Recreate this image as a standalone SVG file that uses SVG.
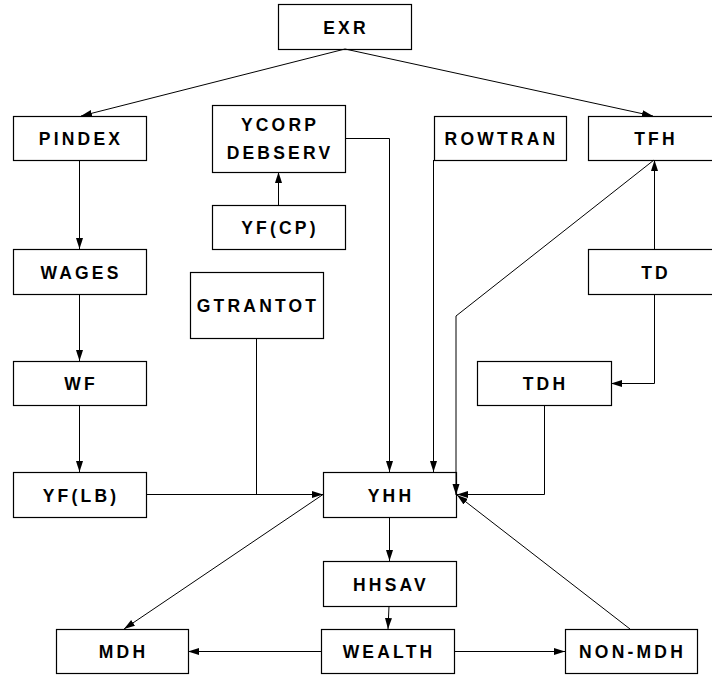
<svg xmlns="http://www.w3.org/2000/svg" width="712" height="675" viewBox="0 0 712 675">
<style>
.box rect{fill:#fff;stroke:#000;stroke-width:1.2}
.box text{font-family:"Liberation Sans",Arial,sans-serif;font-weight:bold;font-size:17.5px;letter-spacing:3.2px;text-anchor:middle;fill:#000}
.c line,.c polyline{fill:none;stroke:#000;stroke-width:1}
</style>
<defs>
<marker id="ah" markerUnits="userSpaceOnUse" markerWidth="12" markerHeight="8" refX="11" refY="3.5" orient="auto">
<path d="M0,0 L11,3.5 L0,7 z" fill="#000"/>
</marker>
</defs>
<rect width="712" height="675" fill="#fff"/>
<g class="box" id="EXR"><rect x="278.5" y="4.5" width="133" height="45"/><text x="346" y="33.5">EXR</text></g>
<g class="box" id="PINDEX"><rect x="13.5" y="116.5" width="133" height="44"/><text x="81" y="145">PINDEX</text></g>
<g class="box" id="YCORP"><rect x="212.5" y="105.5" width="133" height="67"/><text x="280" y="131">YCORP</text><text x="280" y="158.5">DEBSERV</text></g>
<g class="box" id="ROWTRAN"><rect x="434.5" y="116.5" width="132" height="44"/><text x="501.5" y="145">ROWTRAN</text></g>
<g class="box" id="TFH"><rect x="588.5" y="116.5" width="133" height="44"/><text x="656" y="145">TFH</text></g>
<g class="box" id="YFCP"><rect x="212.5" y="205.5" width="133" height="44"/><text x="280" y="234">YF(CP)</text></g>
<g class="box" id="WAGES"><rect x="13.5" y="249.5" width="133" height="45"/><text x="81" y="278.5">WAGES</text></g>
<g class="box" id="GTRANTOT"><rect x="190.5" y="272.5" width="133" height="66"/><text x="258" y="312">GTRANTOT</text></g>
<g class="box" id="TD"><rect x="588.5" y="249.5" width="133" height="45"/><text x="656" y="278.5">TD</text></g>
<g class="box" id="WF"><rect x="13.5" y="361.5" width="133" height="44"/><text x="81" y="390">WF</text></g>
<g class="box" id="TDH"><rect x="477.5" y="361.5" width="134" height="44"/><text x="545.5" y="390">TDH</text></g>
<g class="box" id="YFLB"><rect x="13.5" y="472.5" width="133" height="45"/><text x="81" y="501.5">YF(LB)</text></g>
<g class="box" id="YHH"><rect x="323.5" y="472.5" width="133" height="45"/><text x="391" y="501.5">YHH</text></g>
<g class="box" id="HHSAV"><rect x="323.5" y="561.5" width="133" height="45"/><text x="391" y="590.5">HHSAV</text></g>
<g class="box" id="MDH"><rect x="56.5" y="629.5" width="132" height="44"/><text x="123.5" y="658">MDH</text></g>
<g class="box" id="WEALTH"><rect x="321.5" y="629.5" width="133" height="44"/><text x="389" y="658">WEALTH</text></g>
<g class="box" id="NONMDH"><rect x="565.5" y="629.5" width="132" height="44"/><text x="632.5" y="658">NON-MDH</text></g>
<g class="c" id="connectors">
<line x1="345" y1="49" x2="81" y2="116" marker-end="url(#ah)"/>
<line x1="345" y1="49" x2="653" y2="116" marker-end="url(#ah)"/>
<line x1="79.5" y1="160" x2="79.5" y2="249" marker-end="url(#ah)"/>
<line x1="79.5" y1="294" x2="79.5" y2="361" marker-end="url(#ah)"/>
<line x1="79.5" y1="405" x2="79.5" y2="472" marker-end="url(#ah)"/>
<line x1="278.5" y1="205" x2="278.5" y2="172" marker-end="url(#ah)"/>
<polyline points="345,138.5 389.5,138.5 389.5,472" marker-end="url(#ah)"/>
<line x1="433.5" y1="160" x2="433.5" y2="472" marker-end="url(#ah)"/>
<polyline points="654,160 456,316 456,495" marker-end="url(#ah)"/>
<line x1="654.5" y1="249" x2="654.5" y2="160" marker-end="url(#ah)"/>
<polyline points="654.5,294 654.5,383.5 611,383.5" marker-end="url(#ah)"/>
<polyline points="544.5,405 544.5,494.5 457,494.5" marker-end="url(#ah)"/>
<line x1="146" y1="494.5" x2="323" y2="494.5" marker-end="url(#ah)"/>
<line x1="256.5" y1="338" x2="256.5" y2="494.5"/>
<line x1="323" y1="494.5" x2="124" y2="629" marker-end="url(#ah)"/>
<line x1="389.5" y1="517" x2="389.5" y2="561" marker-end="url(#ah)"/>
<line x1="389" y1="606" x2="388" y2="629" marker-end="url(#ah)"/>
<line x1="321" y1="651.5" x2="188" y2="651.5" marker-end="url(#ah)"/>
<line x1="454" y1="651.5" x2="565" y2="651.5" marker-end="url(#ah)"/>
<line x1="630" y1="629" x2="457" y2="495" marker-end="url(#ah)"/>
</g>
</svg>
